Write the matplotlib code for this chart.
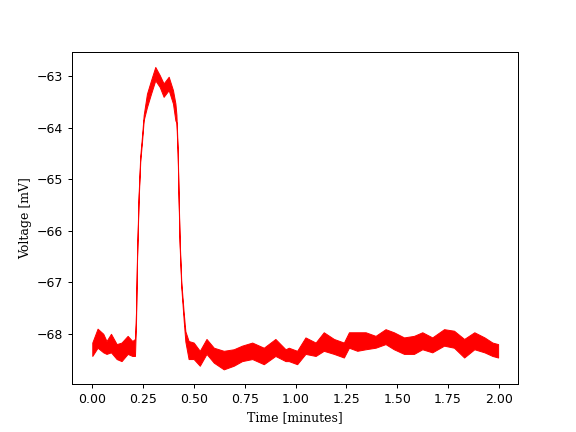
import matplotlib
matplotlib.use("Agg")
import matplotlib.pyplot as plt

# time in minutes, with the upper and lower edge of the noisy trace (mV)
time_min = [0.0, 0.026, 0.054, 0.07, 0.092, 0.12, 0.144, 0.174, 0.197, 0.21,
            0.215, 0.22, 0.228, 0.236, 0.245, 0.253, 0.269, 0.289, 0.31, 0.332,
            0.351, 0.376, 0.397, 0.409, 0.414, 0.42, 0.425, 0.43, 0.438, 0.45,
            0.458, 0.474, 0.499, 0.529, 0.562, 0.598, 0.647, 0.696, 0.737, 0.787,
            0.844, 0.901, 0.951, 0.967, 1.008, 1.049, 1.099, 1.139, 1.189, 1.238,
            1.263, 1.304, 1.345, 1.394, 1.443, 1.484, 1.534, 1.583, 1.624, 1.673,
            1.731, 1.78, 1.83, 1.88, 1.93, 1.969, 1.997]
upper_mv = [-68.17, -67.90, -68.00, -68.14, -68.00, -68.20, -68.17, -68.04, -68.14, -68.10,
            -67.60, -66.50, -65.30, -64.55, -64.15, -63.75, -63.34, -63.08, -62.82, -62.98,
            -63.14, -63.01, -63.27, -63.53, -63.75, -64.40, -65.35, -66.20, -67.00, -67.60,
            -67.95, -68.14, -68.17, -68.33, -68.10, -68.27, -68.33, -68.30, -68.23, -68.17,
            -68.27, -68.10, -68.30, -68.27, -68.33, -68.07, -68.17, -67.97, -68.10, -68.17,
            -67.97, -67.97, -67.97, -68.04, -67.91, -67.97, -68.07, -68.04, -67.97, -68.07,
            -67.91, -67.94, -68.10, -67.97, -68.07, -68.17, -68.20]
lower_mv = [-68.43, -68.27, -68.36, -68.39, -68.36, -68.49, -68.53, -68.39, -68.43, -68.43,
            -67.80, -66.60, -65.40, -64.65, -64.25, -63.85, -63.60, -63.34, -63.08, -63.21,
            -63.40, -63.27, -63.53, -63.86, -63.90, -64.50, -65.45, -66.30, -67.10, -67.75,
            -68.15, -68.49, -68.49, -68.62, -68.39, -68.56, -68.69, -68.62, -68.53, -68.49,
            -68.59, -68.43, -68.53, -68.53, -68.59, -68.39, -68.43, -68.33, -68.39, -68.46,
            -68.27, -68.33, -68.30, -68.27, -68.20, -68.30, -68.39, -68.39, -68.30, -68.36,
            -68.23, -68.27, -68.46, -68.30, -68.36, -68.43, -68.46]

fig, ax = plt.subplots(figsize=(6.4, 4.8), dpi=90)
ax.fill_between(time_min, lower_mv, upper_mv, color="red", edgecolor="red", linewidth=0.8)
ax.set_xticks([0.0, 0.25, 0.5, 0.75, 1.0, 1.25, 1.5, 1.75, 2.0])
ax.set_xlabel("Time [minutes]", family="serif")
ax.set_ylabel("Voltage [mV]", family="serif")
plt.savefig("out.png")
